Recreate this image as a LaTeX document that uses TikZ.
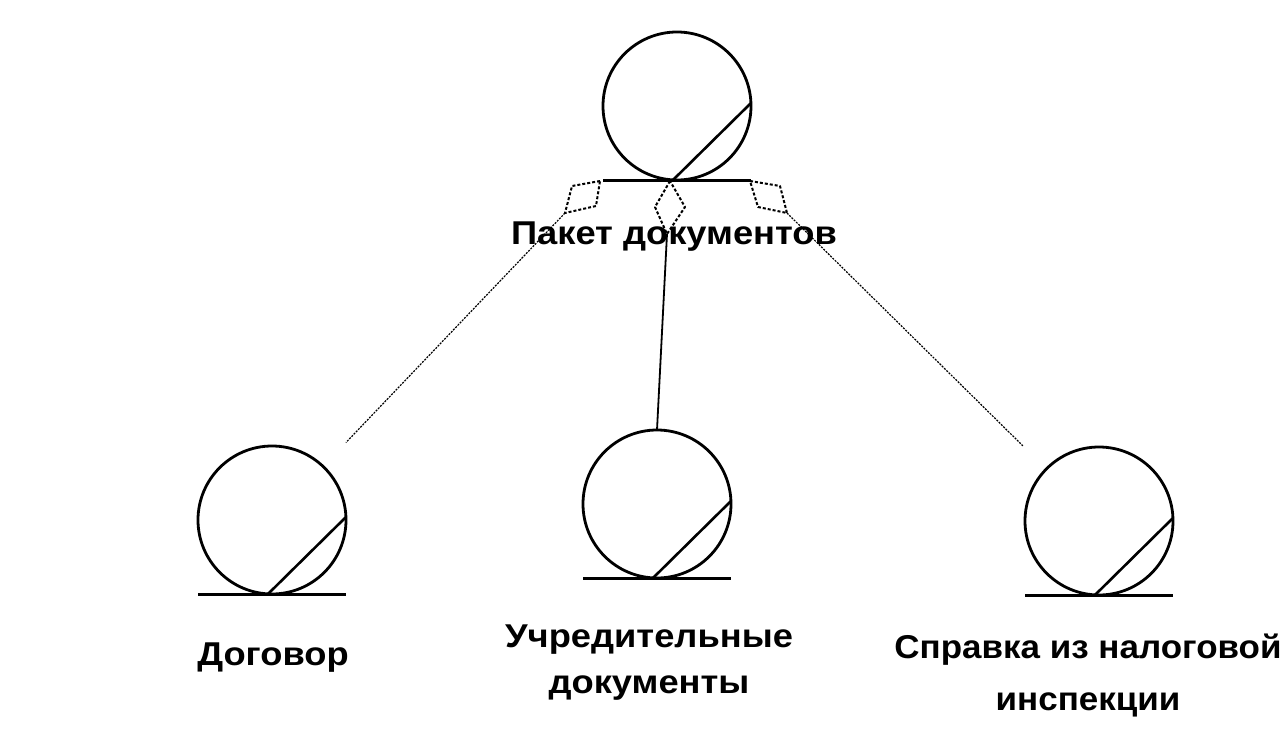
\documentclass[tikz,border=0pt]{standalone}
\usepackage{fontspec}
\setmainfont{Liberation Sans}[FakeStretch=1.1]
\newfontfamily\narrowlbl{Liberation Sans}[FakeStretch=1.06]
\begin{document}
\begin{tikzpicture}[x=1pt,y=-1pt,
  entity/.style={circle,draw,line width=2.8pt,minimum size=148pt,inner sep=0pt,outer sep=0pt},
  baseln/.style={line width=3pt},
  chord/.style={line width=2.6pt},
  agg/.style={line width=2pt,dash pattern=on 3pt off 2pt,line join=round},
  conn/.style={line width=1.2pt,dash pattern=on 2pt off 1.2pt},
  solidconn/.style={line width=1.8pt},
  lbl/.style={font=\bfseries\fontsize{33}{46}\selectfont,align=center,inner sep=0pt}]
\useasboundingbox[fill=white] (0,0) rectangle (1288,736);

% entities
\node[entity] (pak) at (677,106) {};
\node[entity] (dog) at (272,520) {};
\node[entity] (uch) at (657,504) {};
\node[entity] (spr) at (1099,521) {};

% base lines and chords
\foreach \n in {pak,dog,uch,spr}{
  \draw[baseln] ([xshift=-74pt]\n.south) -- ([xshift=74pt]\n.south);
  \draw[chord] ([xshift=-4pt]\n.south) -- ([yshift=3pt]\n.east);
}

% aggregation diamonds
\coordinate (lt) at (600,181);
\coordinate (ll) at (572,186);
\coordinate (lb) at (565,213);
\coordinate (lr) at (596,206);
\draw[agg] (lt) -- (ll) -- (lb) -- (lr) -- cycle;

\coordinate (mt) at (670,181);
\coordinate (ml) at (655,207);
\coordinate (mb) at (667,234);
\coordinate (mr) at (685,207);
\draw[agg] (mt) -- (ml) -- (mb) -- (mr) -- cycle;

\coordinate (rt) at (750,181);
\coordinate (rl) at (758,207);
\coordinate (rb) at (787,213);
\coordinate (rr) at (780,186);
\draw[agg] (rt) -- (rr) -- (rb) -- (rl) -- cycle;

% labels
\node[lbl] (tpak) at (674,237) {Пакет документов};
\node[lbl,anchor=base] (tdog) at (273,665) {Договор};
\node[lbl,anchor=base] (tuch) at (649,693) {Учредительные\\документы};
\node[lbl,anchor=base,font=\narrowlbl\bfseries\fontsize{33}{52}\selectfont] (tspr) at (1088,710) {Справка из налоговой\\инспекции};

% connectors
\draw[conn,shorten >=33pt] (lb) -- (dog);
\draw[conn,shorten >=33pt] (rb) -- (spr);
\draw[solidconn] (mb) -- (uch.north);
\end{tikzpicture}
\end{document}
